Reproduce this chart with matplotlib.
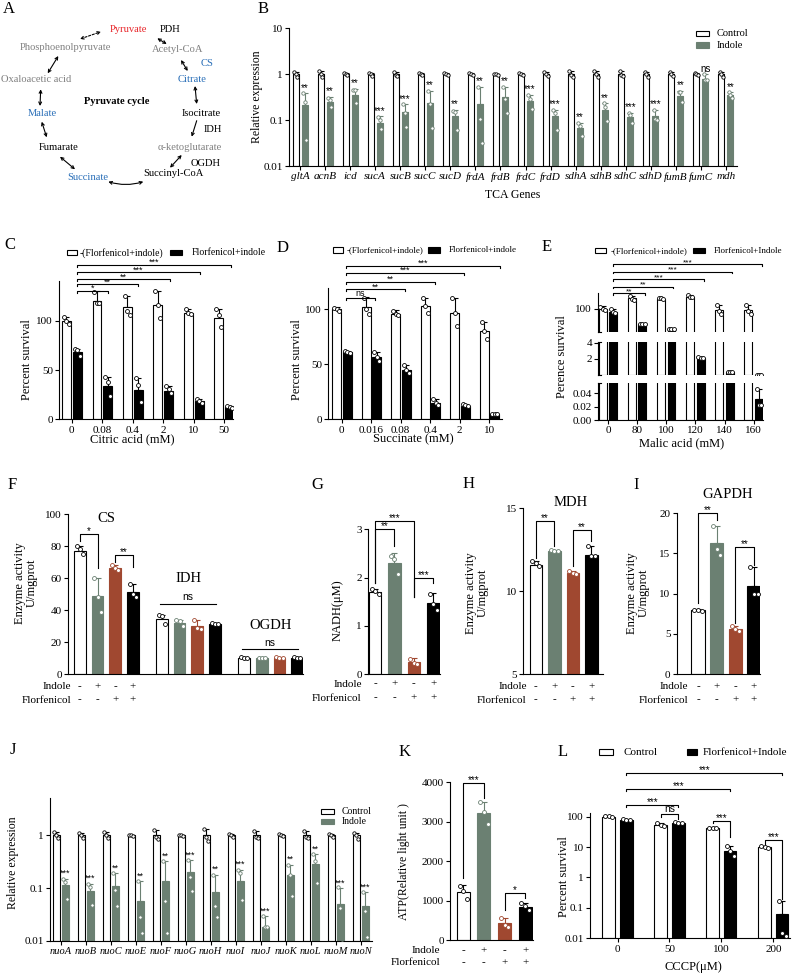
import numpy as np
import matplotlib
matplotlib.use('Agg')
import matplotlib.pyplot as plt
from matplotlib.patches import Rectangle
from matplotlib.ticker import NullLocator
from matplotlib.transforms import blended_transform_factory as btf

plt.rcParams['font.family'] = ['Liberation Serif', 'DejaVu Serif']
SANS = ['Liberation Sans', 'DejaVu Sans']

# ---------------- data ----------------
# B  TCA genes
tca_genes = ['gltA', 'acnB', 'icd', 'sucA', 'sucB', 'sucC', 'sucD', 'frdA', 'frdB',
             'frdC', 'frdD', 'sdhA', 'sdhB', 'sdhC', 'sdhD', 'fumB', 'fumC', 'mdh']
tca_ctrl_mean = [1.0, 1.0, 1.0, 1.0, 1.0, 1.0, 1.0, 1.0, 1.0, 1.0, 1.0, 1.0, 1.0, 1.0, 1.0, 1.0, 1.0, 1.0]
tca_ctrl_top = [1.12, 1.15, 1.06, 1.08, 1.1, 1.06, 1.05, 1.05, 1.03, 1.05, 1.12, 1.2, 1.18, 1.15, 1.12, 1.12, 1.05, 1.12]
tca_ctrl_reps = [[1.12, 1.0, 0.88], [1.15, 1.0, 0.87], [1.05, 1.0, 0.96], [1.08, 1.0, 0.93],
                 [1.1, 0.98, 0.92], [1.05, 1.0, 0.96], [1.04, 1.0, 0.97], [1.04, 1.0, 0.96],
                 [1.02, 1.0, 0.98], [1.04, 1.0, 0.96], [1.1, 1.0, 0.9], [1.18, 0.95, 0.87],
                 [1.15, 1.0, 0.86], [1.15, 0.95, 0.9], [1.12, 1.0, 0.88], [1.1, 1.0, 0.9],
                 [1.04, 1.0, 0.96], [1.12, 1.0, 0.88]]
tca_ind_mean = [0.21, 0.25, 0.35, 0.087, 0.15, 0.23, 0.12, 0.22, 0.32, 0.26, 0.12, 0.068,
                0.17, 0.117, 0.125, 0.34, 0.79, 0.35]
tca_ind_top = [0.38, 0.32, 0.47, 0.12, 0.22, 0.43, 0.165, 0.53, 0.53, 0.36, 0.17, 0.087,
               0.23, 0.144, 0.17, 0.43, 1.0, 0.4]
tca_ind_reps = [[0.38, 0.25, 0.037], [0.31, 0.27, 0.19], [0.45, 0.45, 0.24], [0.118, 0.1, 0.065],
                [0.22, 0.14, 0.069], [0.43, 0.22, 0.068], [0.16, 0.15, 0.062], [0.53, 0.108, 0.032],
                [0.53, 0.29, 0.14], [0.35, 0.29, 0.175], [0.17, 0.14, 0.062], [0.087, 0.075, 0.045],
                [0.23, 0.19, 0.095], [0.144, 0.13, 0.085], [0.17, 0.107, 0.1], [0.41, 0.41, 0.25],
                [1.03, 0.74, 0.74], [0.4, 0.36, 0.31]]
tca_sig = ['**', '**', '**', '***', '***', '**', '**', '**', '**', '***', '***', '**', '**',
           '***', '***', '**', 'ns', '**']

# C  citric acid
cit_conc = ['0', '0.08', '0.4', '2', '10', '50']
cit_ctrl_mean = [100, 120, 114, 116, 108, 103]
cit_ctrl_top = [104, 130, 125, 130, 112, 112]
cit_ctrl_reps = [[104, 100, 97], [129, 118, 118], [125, 110, 106], [130, 116, 103], [112, 108, 107], [112, 106, 94]]
cit_trt_mean = [68, 34, 30, 29, 19, 12]
cit_trt_top = [71, 43, 42, 34, 21, 13]
cit_trt_reps = [[71, 70, 64], [43, 38, 24], [42, 35, 18], [34, 31, 27], [21, 19, 17], [13, 12.5, 11]]
cit_sig = ['*', '**', '**', '***', '***']

# D  succinate
suc_conc = ['0', '0.016', '0.08', '0.4', '2', '10']
suc_ctrl_mean = [100, 102, 96, 103, 97, 80]
suc_ctrl_top = [102, 111, 99, 110, 110, 88]
suc_ctrl_reps = [[101, 100, 98], [110, 100, 96], [98, 96, 95], [110, 103, 97], [110, 97, 85], [88, 80, 73]]
suc_trt_mean = [61, 57, 45, 15, 12, 5]
suc_trt_top = [62, 61, 49, 18, 14, 5.3]
suc_trt_reps = [[62, 61, 60], [61, 57, 53], [49, 45, 42], [18, 15, 13], [14, 13, 12], [5.2, 5, 4.8]]
suc_sig = ['ns', '**', '**', '***', '***']

# E  malic acid
mal_conc = ['0', '80', '100', '120', '140', '160']
mal_ctrl_mean = [100, 127, 125, 131, 96, 96]
mal_ctrl_top = [106, 133, 128, 136, 110, 110]
mal_ctrl_reps = [[104, 99, 97], [132, 125, 122], [127, 127, 125], [135, 130, 130], [110, 95, 85], [110, 95, 85]]
mal_trt_mean = [92, 60, 46, 2.15, 0.38, 0.031]
mal_trt_top = [100, 61, 47, 2.25, 0.42, 0.047]
mal_trt_reps = [[100, 90, 88], [60, 60, 60], [46, 46, 46], [2.2, 2.15, 2.1], [0.4, 0.38, 0.36], [0.047, 0.023, 0.023]]
mal_sig = ['**', '**', '***', '***', '***']

# F  enzyme activities (order: control, indole, florfenicol, florfenicol+indole)
cs_mean = [77, 49, 66, 51]
cs_top = [80, 60, 68, 56]
cs_reps = [[80, 78, 75], [60, 48, 39], [68, 66, 65], [56, 50, 48]]
idh_mean = [34.5, 32, 30, 31]
idh_top = [37, 34, 34, 32]
idh_reps = [[37, 36, 31], [34, 33, 30], [34, 29, 28], [32, 31.5, 31]]
ogdh_mean = [10, 10, 10, 10.3]
ogdh_top = [10.5, 10.4, 10.5, 10.8]
ogdh_reps = [[10.5, 10, 9.8], [10.3, 10, 9.9], [10.4, 10, 9.8], [10.8, 10.3, 10]]
indole_signs = ['-', '+', '-', '+']
flor_signs = ['-', '-', '+', '+']

# G NADH, H MDH, I GAPDH
nadh_mean = [1.7, 2.3, 0.25, 1.47]
nadh_top = [1.77, 2.5, 0.33, 1.67]
nadh_reps = [[1.77, 1.72, 1.65], [2.45, 2.38, 2.07], [0.32, 0.22, 0.21], [1.65, 1.45, 1.32]]
mdh_mean = [11.6, 12.45, 11.1, 12.2]
mdh_top = [11.8, 12.5, 11.2, 12.75]
mdh_reps = [[11.8, 11.7, 11.5], [12.5, 12.45, 12.4], [11.2, 11.1, 11.05], [12.75, 12.1, 12.1]]
gapdh_mean = [8.0, 16.3, 5.6, 11.0]
gapdh_top = [8.1, 18.4, 6.0, 13.3]
gapdh_reps = [[8.0, 8.0, 7.9], [18.4, 15.5, 14.8], [6.0, 5.6, 5.3], [13.3, 10, 10]]

# J  nuo genes
nuo_genes = ['nuoA', 'nuoB', 'nuoC', 'nuoE', 'nuoF', 'nuoG', 'nuoH', 'nuoI', 'nuoJ', 'nuoK', 'nuoL', 'nuoM', 'nuoN']
nuo_ctrl_mean = [1.0, 1.0, 1.0, 1.0, 1.0, 1.0, 1.0, 1.0, 1.0, 1.0, 1.0, 1.0, 1.0]
nuo_ctrl_top = [1.15, 1.12, 1.15, 1.03, 1.25, 1.03, 1.3, 1.08, 1.2, 1.05, 1.2, 1.06, 1.12]
nuo_ctrl_reps = [[1.15, 1.0, 0.88], [1.12, 1.0, 0.9], [1.15, 1.0, 0.9], [1.03, 1.0, 0.98],
                 [1.25, 0.95, 0.85], [1.03, 1.0, 0.98], [1.3, 0.95, 0.8], [1.08, 1.0, 0.93],
                 [1.2, 0.95, 0.9], [1.05, 1.0, 0.96], [1.2, 0.95, 0.9], [1.06, 1.0, 0.95],
                 [1.12, 1.0, 0.85]]
nuo_ind_mean = [0.112, 0.087, 0.11, 0.058, 0.134, 0.2, 0.084, 0.136, 0.018, 0.175, 0.285, 0.05, 0.045]
nuo_ind_top = [0.15, 0.12, 0.19, 0.134, 0.325, 0.34, 0.18, 0.225, 0.029, 0.28, 0.44, 0.1, 0.084]
nuo_ind_reps = [[0.15, 0.13, 0.062], [0.12, 0.105, 0.048], [0.195, 0.09, 0.045], [0.134, 0.028, 0.014],
                [0.325, 0.058, 0.014], [0.34, 0.16, 0.088], [0.18, 0.045, 0.028], [0.225, 0.195, 0.06],
                [0.029, 0.018, 0.018], [0.28, 0.175, 0.07], [0.44, 0.32, 0.127], [0.105, 0.042, 0.009],
                [0.084, 0.036, 0.012]]
nuo_sig = ['***', '***', '**', '**', '**', '***', '**', '***', '***', '**', '**', '***', '***']

# K ATP
atp_mean = [1220, 3230, 420, 840]
atp_top = [1400, 3500, 560, 930]
atp_reps = [[1380, 1250, 1030], [3500, 3250, 2950], [560, 380, 330], [930, 850, 760]]

# L CCCP
cccp_conc = ['0', '50', '100', '200']
cccp_ctrl_mean = [100, 55, 43, 10]
cccp_ctrl_top = [105, 62, 45, 11]
cccp_ctrl_reps = [[105, 103, 95], [62, 55, 50], [44, 43, 42], [11, 10, 9.5]]
cccp_trt_mean = [80, 63, 7.5, 0.065]
cccp_trt_top = [82, 66, 10.5, 0.17]
cccp_trt_reps = [[82, 80, 80], [66, 63, 62], [11, 7.5, 5], [0.17, 0.015, 0.012]]

# ---------------- style ----------------
LW = 0.8
GREEN = '#6b8072'
RUST = '#a04830'
FILLS = ['white', GREEN, RUST, 'black']
EDGES = ['black', GREEN, RUST, 'black']
W, H = 800, 980

fig = plt.figure(figsize=(8, 9.8), dpi=100)
ov = fig.add_axes([0, 0, 1, 1])
ov.set_xlim(0, W)
ov.set_ylim(H, 0)
ov.axis('off')


def mkax(x0, y0, x1, y1):
    ax = fig.add_axes([x0 / W, 1 - y1 / H, (x1 - x0) / W, (y1 - y0) / H])
    ax.patch.set_alpha(0)
    for s in ('top', 'right'):
        ax.spines[s].set_visible(False)
    for s in ('left', 'bottom'):
        ax.spines[s].set_linewidth(LW)
    ax.tick_params(length=3, width=LW, labelsize=8, pad=1.5)
    return ax


def draw_bars(ax, xs, means, tops, reps, fc, ec, width, bottom=0.0, ms=8):
    xs = np.atleast_1d(np.asarray(xs, float))
    means = np.asarray(means, float)
    tops = np.asarray(tops, float)
    ax.bar(xs, means - bottom, width, bottom=bottom, color=fc, edgecolor=ec,
           linewidth=LW, zorder=2)
    ax.errorbar(xs, means, yerr=[np.zeros_like(means), np.clip(tops - means, 0, None)],
                fmt='none', ecolor=ec, elinewidth=LW, capsize=2, capthick=LW, zorder=1.8)
    offs = np.array([-0.28, 0.0, 0.28]) * width
    for x, r in zip(xs, reps):
        ax.scatter(x + offs[:len(r)], r, s=ms, facecolor='white', edgecolor=ec,
                   linewidths=0.6, zorder=3)


def bracket(ax, x1, x2, y, yl, yr, text, fs=7, dy=0.0):
    ax.plot([x1, x1, x2, x2], [yl, y, y, yr], color='k', lw=LW, clip_on=False, zorder=4)
    ax.annotate(text, ((x1 + x2) / 2, y), xytext=(0, dy), textcoords='offset points',
                ha='center', va='bottom', fontsize=fs, family=SANS, annotation_clip=False)


def stars(ax, xs, tops, labels, fs=7):
    for x, t, s in zip(xs, tops, labels):
        ax.annotate(s, (x, t), xytext=(0, 0.5), textcoords='offset points', ha='center',
                    va='bottom', fontsize=fs, family=SANS, annotation_clip=False)


def sign_rows(ax, xs, y1, y2, xlab, fs=8):
    tr = btf(ax.transData, ov.transData)
    for x, a, b in zip(xs, indole_signs, flor_signs):
        ax.text(x, y1, a, transform=tr, ha='center', va='center', fontsize=fs)
        ax.text(x, y2, b, transform=tr, ha='center', va='center', fontsize=fs)
    ov.text(xlab, y1, 'Indole', ha='right', va='center', fontsize=fs)
    ov.text(xlab, y2, 'Florfenicol', ha='right', va='center', fontsize=fs)


def legend_item(x, y, fc, ec, label, w=13, h=5.5, fs=7.5, gap=8):
    ov.add_patch(Rectangle((x, y - h / 2), w, h, facecolor=fc, edgecolor=ec, lw=LW))
    ov.text(x + w + gap, y, label, ha='left', va='center', fontsize=fs)


def ylab(x, y, s, fs=9):
    ov.text(x, y, s, rotation=90, ha='center', va='center', fontsize=fs, linespacing=1.05)


def xlab(x, y, s, fs=9):
    ov.text(x, y, s, ha='center', va='center', fontsize=fs)


# panel letters
for L_, (lx, ly) in {'A': (9, 9), 'B': (263, 9), 'C': (10, 245), 'D': (283, 248),
                     'E': (547, 247), 'F': (12, 485), 'G': (317, 485), 'H': (469, 484),
                     'I': (636, 485), 'J': (13, 750), 'K': (405, 752), 'L': (563, 752)}.items():
    ov.text(lx, ly, L_, ha='center', va='center', fontsize=12)

# ---------------- A: pyruvate cycle ----------------
RED, GRAY, BLUE = '#e8262a', '#808080', '#2a6fb8'
nodes = [('Pyruvate', 128, 29, RED), ('PDH', 170, 30, 'k'), ('Acetyl-CoA', 178, 50, GRAY),
         ('CS', 207, 64, BLUE), ('Citrate', 192, 80, BLUE), ('Isocitrate', 201, 113, 'k'),
         ('IDH', 213, 129, 'k'), ('α-ketoglutarate', 190, 147, GRAY), ('OGDH', 206, 163, 'k'),
         ('Succinyl-CoA', 173, 174, 'k'), ('Succinate', 88, 177, BLUE), ('Fumarate', 59, 147, 'k'),
         ('Malate', 42, 113, BLUE), ('Oxaloacetic acid', 36, 80, GRAY),
         ('Phosphoenolpyruvate', 65, 48, GRAY)]
for s, x, y, c in nodes:
    ov.text(x, y, s, ha='center', va='center', fontsize=7.6, color=c)
ov.text(117, 102, 'Pyruvate cycle', ha='center', va='center', fontsize=7.6, fontweight='bold')


def arr(p1, p2, style='<->', ls='-', rad=0.0):
    ov.annotate('', xy=p2, xytext=p1,
                arrowprops=dict(arrowstyle=style, lw=0.8, color='k', linestyle=ls,
                                shrinkA=0, shrinkB=0, mutation_scale=5,
                                connectionstyle=f'arc3,rad={rad}'))


arr((80, 39), (101, 31.7), ls=(0, (2, 1.5)))
arr((157.3, 38.3), (166.7, 44))
arr((181, 60), (187.7, 71))
arr((195, 86), (196.7, 104))
arr((196.7, 120.7), (191.7, 136.7), style='->')
arr((181.7, 155), (170, 167.7))
arr((143.3, 181.7), (108.3, 181.7), rad=-0.15)
arr((75, 169.3), (60, 156.7))
arr((46.7, 137.3), (41.7, 121.7))
arr((40, 106), (40.7, 89.3))
arr((47.7, 73.3), (58.3, 56))

# ---------------- B ----------------
axB = mkax(289.3, 28.3, 736.7, 166)
axB.set_yscale('log')
axB.set_ylim(0.01, 10)
xb = np.arange(len(tca_genes))
axB.set_xlim(-0.43, 17.43)
draw_bars(axB, xb - 0.18, tca_ctrl_mean, tca_ctrl_top, tca_ctrl_reps, 'white', 'k', 0.24, bottom=0.01, ms=6)
draw_bars(axB, xb + 0.18, tca_ind_mean, tca_ind_top, tca_ind_reps, GREEN, GREEN, 0.24, bottom=0.01, ms=6)
stars(axB, xb + 0.18, tca_ind_top, tca_sig)
axB.set_xticks(xb)
axB.set_xticklabels(tca_genes, style='italic', fontsize=8)
axB.set_yticks([0.01, 0.1, 1, 10])
axB.set_yticklabels(['0.01', '0.1', '1', '10'])
axB.yaxis.set_minor_locator(NullLocator())
ylab(257, 97, 'Relative expression', fs=8.5)
xlab(513, 195, 'TCA Genes', fs=8.5)
legend_item(696, 33.3, 'white', 'k', 'Control')
legend_item(696, 45, GREEN, GREEN, 'Indole')


# ---------------- C / D ----------------
def survival_panel(rect, ylim, xlim, labels, cm, ct, cr, tm, tt, tr_, off, bw):
    ax = mkax(*rect)
    ax.set_ylim(*ylim)
    ax.set_xlim(*xlim)
    x = np.arange(len(labels))
    draw_bars(ax, x + off[0], cm, ct, cr, 'white', 'k', bw)
    draw_bars(ax, x + off[1], tm, tt, tr_, 'black', 'k', bw)
    ax.set_xticks(x)
    ax.set_xticklabels(labels)
    return ax


axC = survival_panel((59.3, 280.7, 233, 419.3), (0, 140.6), (-0.41, 5.29), cit_conc,
                     cit_ctrl_mean, cit_ctrl_top, cit_ctrl_reps, cit_trt_mean, cit_trt_top,
                     cit_trt_reps, (-0.175, 0.18), 0.29)
axC.set_yticks([0, 50, 100])
for yv, xe, s in zip([130, 137, 142, 149, 156.5], [1.2, 2.18, 3.22, 4.2, 5.21], cit_sig):
    bracket(axC, 0.18, xe, yv, yv - 2, yv - 2, s, fs=6.5, dy=-1.5)
ylab(27, 360, 'Percent survival')
xlab(132, 439, 'Citric acid (mM)')
legend_item(66.7, 252.7, 'white', 'k', '-(Florfenicol+indole)', w=10, fs=7, gap=3)
legend_item(170, 252.7, 'black', 'k', 'Florfenicol+indole', w=12, fs=7, gap=10)

axD = survival_panel((328.3, 288.3, 502, 419.3), (0, 119), (-0.45, 5.43), suc_conc,
                     suc_ctrl_mean, suc_ctrl_top, suc_ctrl_reps, suc_trt_mean, suc_trt_top,
                     suc_trt_reps, (-0.17, 0.19), 0.31)
axD.set_yticks([0, 50, 100])
for yv, xe, s in zip([110, 118.2, 125.1, 133.3, 139.6], [1.13, 2.15, 3.16, 4.15, 5.37], suc_sig):
    bracket(axD, 0.14, xe, yv, yv - 2, yv - 2, s, fs=6.5, dy=-1.5 if s != 'ns' else 0)
ylab(297, 360, 'Percent survival')
xlab(413, 439, 'Succinate (mM)')
legend_item(333.3, 250, 'white', 'k', '-(Florfenicol+indole)', w=10, fs=6.5, gap=3)
legend_item(428.3, 250, 'black', 'k', 'Florfenicol+indole', w=12, fs=6.5, gap=8)

# ---------------- E (broken axis) ----------------
xE = np.arange(len(mal_conc))
segs = [((598.3, 293.3, 763, 331.7), (40, 140), [100], ['100']),
        ((598.3, 341.7, 763, 375), (0, 4.1), [2, 4], ['2', '4']),
        ((598.3, 383.3, 763, 420), (0, 0.055), [0, 0.02, 0.04], ['0.00', '0.02', '0.04'])]
EXL = (-0.33, 5.32)
axEs = []
for i, (rect, yl, yt, ytl) in enumerate(segs):
    ax = mkax(*rect)
    ax.set_xlim(*EXL)
    ax.set_ylim(*yl)
    draw_bars(ax, xE - 0.18, mal_ctrl_mean, mal_ctrl_top, mal_ctrl_reps, 'white', 'k', 0.27)
    draw_bars(ax, xE + 0.18, mal_trt_mean, mal_trt_top, mal_trt_reps, 'black', 'k', 0.27)
    ax.set_yticks(yt)
    ax.set_yticklabels(ytl)
    if i < 2:
        ax.spines['bottom'].set_visible(False)
        ax.set_xticks([])
    else:
        ax.set_xticks(xE)
        ax.set_xticklabels(mal_conc)
    hook = 0.1
    if i > 0:
        ax.plot([EXL[0], EXL[0] + hook], [yl[1], yl[1]], color='k', lw=LW, clip_on=False)
    if i < 2:
        ax.plot([EXL[0], EXL[0] + hook], [yl[0], yl[0]], color='k', lw=LW, clip_on=False)
    axEs.append(ax)
for yv, xe, s in zip([140, 157, 176.5, 196, 215.5], [1.26, 2.23, 3.28, 4.26, 5.27], mal_sig):
    bracket(axEs[0], 0.18, xe, yv, yv - 4, yv - 4, s, fs=6, dy=-1.5)
ylab(562, 357, 'Perence survival')
xlab(682, 443, 'Malic acid (mM)')
legend_item(595, 250.7, 'white', 'k', '-(Florfenicol+indole)', w=11, fs=6.5, gap=5)
legend_item(693.3, 250.7, 'black', 'k', 'Florfenicol+Indole', w=12, fs=6.5, gap=8)

# ---------------- F ----------------
axF = mkax(68.3, 514, 303, 674)
axF.set_ylim(0, 100)
axF.set_xlim(-0.66, 12.66)
axF.set_yticks([0, 20, 40, 60, 80, 100])
axF.set_xticks([])
GAP = 4.66
fpos_all = []
for g, (m, t, r) in enumerate([(cs_mean, cs_top, cs_reps), (idh_mean, idh_top, idh_reps),
                               (ogdh_mean, ogdh_top, ogdh_reps)]):
    for j in range(4):
        draw_bars(axF, [g * GAP + j], [m[j]], [t[j]], [r[j]], FILLS[j], EDGES[j], 0.66)
    fpos_all.extend([g * GAP + j for j in range(4)])
bracket(axF, 0, 1, 87.5, 83, 66, '*', fs=7, dy=-1.5)
bracket(axF, 2, 3, 74.4, 70, 67, '**', fs=7, dy=-1.5)
for g, yv in ((1, 44), (2, 15.6)):
    bracket(axF, g * GAP - 0.11, g * GAP + 3.07, yv, yv, yv, 'ns', fs=7.5, dy=1)
for g, (name, yv) in enumerate([('CS', 97.5), ('IDH', 60), ('OGDH', 30.6)]):
    axF.text(g * GAP + 1.5, yv, name, ha='center', va='center', fontsize=10.5, clip_on=False)
sign_rows(axF, fpos_all, 686.7, 700, 71)
ylab(26, 583, 'Enzyme activity\nU/mgprot')

# ---------------- G ----------------
x4 = np.arange(4)
axG = mkax(368.3, 529.3, 440, 674)
axG.set_ylim(0, 3)
axG.set_xlim(-0.35, 3.35)
axG.set_yticks([0, 1, 2, 3])
axG.set_xticks([])
for j in range(4):
    draw_bars(axG, [x4[j]], [nadh_mean[j]], [nadh_top[j]], [nadh_reps[j]], FILLS[j], EDGES[j], 0.65)
bracket(axG, 0, 1, 3.0, 1.88, 2.65, '**', dy=-1.5)
bracket(axG, 0, 2, 3.18, 1.88, 1.6, '***', dy=-1.5)
bracket(axG, 2, 3, 2.0, 1.6, 1.88, '***', dy=-1.5)
sign_rows(axG, x4, 684, 698, 361.7)
ylab(338, 610, 'NADH(μM)')

# ---------------- H ----------------
axH = mkax(523.3, 508.3, 602.7, 674)
axH.set_ylim(5, 15)
axH.set_xlim(-0.68, 3.62)
axH.set_yticks([5, 10, 15])
axH.set_xticks([])
for j in range(4):
    draw_bars(axH, [x4[j]], [mdh_mean[j]], [mdh_top[j]], [mdh_reps[j]], FILLS[j], EDGES[j], 0.68, bottom=5)
bracket(axH, 0, 1, 14.25, 12.0, 12.7, '**', dy=-1.5)
bracket(axH, 2, 3, 13.7, 11.5, 13.0, '**', dy=-1.5)
axH.text(1.89, 15.36, 'MDH', ha='center', va='center', fontsize=10.5, clip_on=False)
sign_rows(axH, x4, 686.7, 700, 526.7)
ylab(477, 593, 'Enzyme activity\nU/mgprot')

# ---------------- I ----------------
axI = mkax(676.7, 513.3, 760, 674)
axI.set_ylim(0, 20)
axI.set_xlim(-1.14, 3.32)
axI.set_yticks([0, 5, 10, 15, 20])
axI.set_xticks([])
for j in range(4):
    draw_bars(axI, [x4[j]], [gapdh_mean[j]], [gapdh_top[j]], [gapdh_reps[j]], FILLS[j], EDGES[j], 0.7)
bracket(axI, 0, 1, 20, 8.8, 19.2, '**', dy=-1.5)
bracket(axI, 2, 3, 15.85, 6.3, 13.6, '**', dy=-1.5)
axI.text(1.57, 22.4, 'GAPDH', ha='center', va='center', fontsize=10.5, clip_on=False)
sign_rows(axI, x4, 686.7, 700, 688.3)
ylab(638, 593, 'Enzyme activity\nU/mgprot')

# ---------------- J ----------------
axJ = mkax(50, 798.3, 371.7, 940.7)
axJ.set_yscale('log')
axJ.set_ylim(0.01, 5.07)
xj = np.arange(len(nuo_genes))
axJ.set_xlim(-0.43, 12.44)
draw_bars(axJ, xj - 0.18, nuo_ctrl_mean, nuo_ctrl_top, nuo_ctrl_reps, 'white', 'k', 0.27, bottom=0.01, ms=6)
draw_bars(axJ, xj + 0.18, nuo_ind_mean, nuo_ind_top, nuo_ind_reps, GREEN, GREEN, 0.27, bottom=0.01, ms=6)
stars(axJ, xj + 0.18, nuo_ind_top, nuo_sig, fs=6.5)
axJ.set_xticks(xj)
axJ.set_xticklabels(nuo_genes, style='italic', fontsize=7.5)
axJ.set_yticks([0.01, 0.1, 1])
axJ.set_yticklabels(['0.01', '0.1', '1'])
axJ.yaxis.set_minor_locator(NullLocator())
ylab(13, 863, 'Relative expression', fs=8.5)
legend_item(321, 811.7, 'white', 'k', 'Control', fs=7)
legend_item(321, 821.7, GREEN, GREEN, 'Indole', fs=7)

# ---------------- K ----------------
axK = mkax(450, 782.3, 533.3, 940)
axK.set_ylim(0, 4000)
axK.set_xlim(-0.65, 3.4)
axK.set_yticks([0, 1000, 2000, 3000, 4000])
axK.set_xticks([])
for j in range(4):
    draw_bars(axK, [x4[j]], [atp_mean[j]], [atp_top[j]], [atp_reps[j]], FILLS[j], EDGES[j], 0.63)
bracket(axK, 0, 1, 3990, 1565, 3590, '***', dy=-1.5)
bracket(axK, 2, 3, 1184, 760, 1057, '*', dy=-1.5)
sign_rows(axK, x4, 950.7, 962.7, 440)
ylab(404, 862, 'ATP(Relative light unit )', fs=8.5)

# ---------------- L ----------------
axL = mkax(590, 812.7, 790, 938.3)
axL.set_yscale('log')
axL.set_ylim(0.01, 135)
axL.set_xlim(-0.53, 3.32)
xl = np.arange(len(cccp_conc))
draw_bars(axL, xl - 0.17, cccp_ctrl_mean, cccp_ctrl_top, cccp_ctrl_reps, 'white', 'k', 0.24, bottom=0.01)
draw_bars(axL, xl + 0.17, cccp_trt_mean, cccp_trt_top, cccp_trt_reps, 'black', 'k', 0.24, bottom=0.01)
axL.set_xticks(xl)
axL.set_xticklabels(cccp_conc)
axL.set_yticks([0.01, 0.1, 1, 10, 100])
axL.set_yticklabels(['0.01', '0.1', '1', '10', '100'])
axL.yaxis.set_minor_locator(NullLocator())
bracket(axL, 0.17, 3.17, 2690, 2300, 2300, '***', dy=-1.5)
bracket(axL, 0.17, 2.17, 795, 680, 680, '***', dy=-1.5)
bracket(axL, 0.17, 1.17, 243, 210, 210, '***', dy=-1.5)
bracket(axL, 0.83, 1.17, 123, 100, 85, 'ns', fs=7.5, dy=0)
bracket(axL, 1.83, 2.17, 72, 60, 22, '***', dy=-1.5)
bracket(axL, 2.83, 3.17, 17.1, 13, 0.2, '***', dy=-1.5)
ylab(564, 877, 'Percent survival')
xlab(693, 967, 'CCCP(μM)')
legend_item(599, 752.3, 'white', 'k', 'Control', w=14, h=6, fs=8, gap=11)
legend_item(686.7, 752.3, 'black', 'k', 'Florfenicol+Indole', w=10, h=6, fs=8, gap=6)

fig.savefig('out.png', dpi=100)
